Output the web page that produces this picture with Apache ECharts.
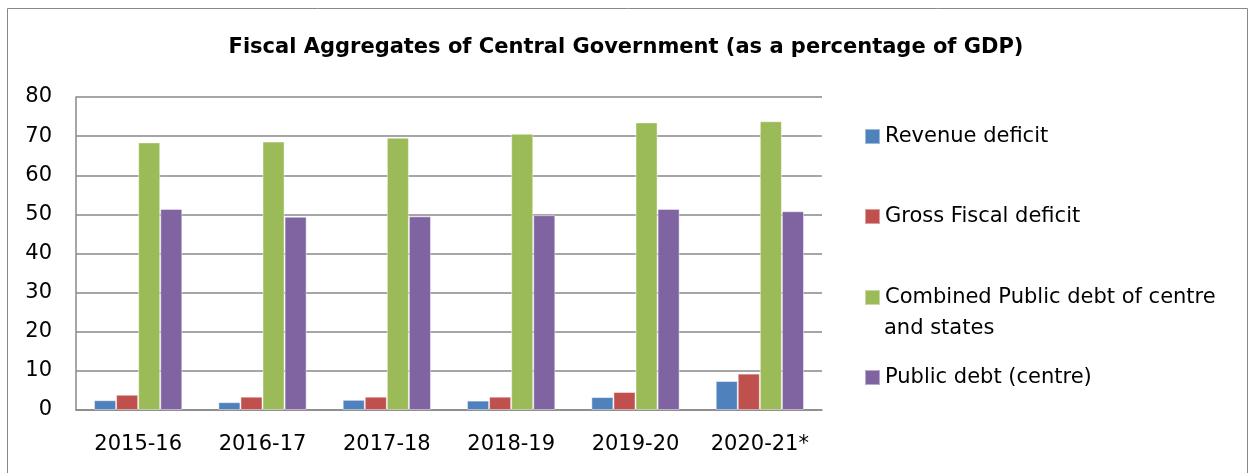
<!DOCTYPE html>
<html>
<head>
<meta charset="utf-8">
<script src="https://cdn.jsdelivr.net/npm/echarts@6/dist/echarts.min.js"></script>
<style>
html,body{margin:0;padding:0;background:#fff;}
#chart{width:1252px;height:473px;}
</style>
</head>
<body>
<div id="chart"></div>
<script>
const categories = ['2015-16','2016-17','2017-18','2018-19','2019-20','2020-21*'];
const revenueDeficit = [2.5, 2.0, 2.6, 2.4, 3.3, 7.4];
const grossFiscalDeficit = [3.9, 3.4, 3.4, 3.4, 4.6, 9.3];
const combinedPublicDebt = [68.4, 68.6, 69.6, 70.6, 73.5, 73.8];
const publicDebtCentre = [51.4, 49.4, 49.5, 49.8, 51.4, 50.8];
const seriesNames = ['Revenue deficit','Gross Fiscal deficit','Combined Public debt of centre and states','Public debt (centre)'];
const colors = ['#4F81BD','#C0504D','#9BBB59','#8064A2'];

const FONT = 'DejaVu Sans';
const FS = 21;
const chart = echarts.init(document.getElementById('chart'));
const legendBase = {
  orient: 'vertical', left: 864, itemWidth: 15, itemHeight: 15, itemGap: 10,
  icon: 'rect', selectedMode: false, padding: 0,
  textStyle: {fontFamily: FONT, fontSize: FS, color: '#000'}
};
const tops = [126, 206, 287, 367];
chart.setOption({
  animation: false,
  color: colors,
  title: {
    text: 'Fiscal Aggregates of Central Government (as a percentage of GDP)',
    left: 'center', top: 37, padding: 0,
    textStyle: {fontFamily: FONT, fontWeight: 'bold', fontSize: 21, color: '#000'}
  },
  legend: seriesNames.map((n, i) => Object.assign({}, legendBase, {
    top: tops[i], data: [n],
    formatter: i === 2 ? 'Combined Public debt of centre' : undefined
  })),
  graphic: [
    {type: 'rect', shape: {x: 7.5, y: 8.5, width: 1240, height: 480}, style: {fill: 'none', stroke: '#888', lineWidth: 1}, silent: true},
    {type: 'text', left: 884, top: 318, style: {text: 'and states', font: FS + 'px "DejaVu Sans"', fill: '#000'}}
  ],
  grid: {left: 76, right: 430, top: 97, bottom: 63},
  xAxis: {
    type: 'category', data: categories,
    axisTick: {show: false},
    axisLine: {lineStyle: {color: '#888', width: 1.5}},
    axisLabel: {fontFamily: FONT, fontSize: FS, color: '#000', margin: 24, interval: 0}
  },
  yAxis: {
    type: 'value', min: 0, max: 80, interval: 10,
    axisLine: {show: true, lineStyle: {color: '#888', width: 1.5}},
    axisTick: {show: false},
    splitLine: {lineStyle: {color: '#888', width: 1.5}},
    axisLabel: {fontFamily: FONT, fontSize: FS, color: '#000', margin: 24}
  },
  series: [revenueDeficit, grossFiscalDeficit, combinedPublicDebt, publicDebtCentre].map((d, i) => ({
    name: seriesNames[i], type: 'bar', data: d,
    barGap: '0%', barCategoryGap: '29%',
    itemStyle: {color: colors[i], borderColor: 'rgba(255,255,255,0.45)', borderWidth: 1}
  }))
});
</script>
</body>
</html>
